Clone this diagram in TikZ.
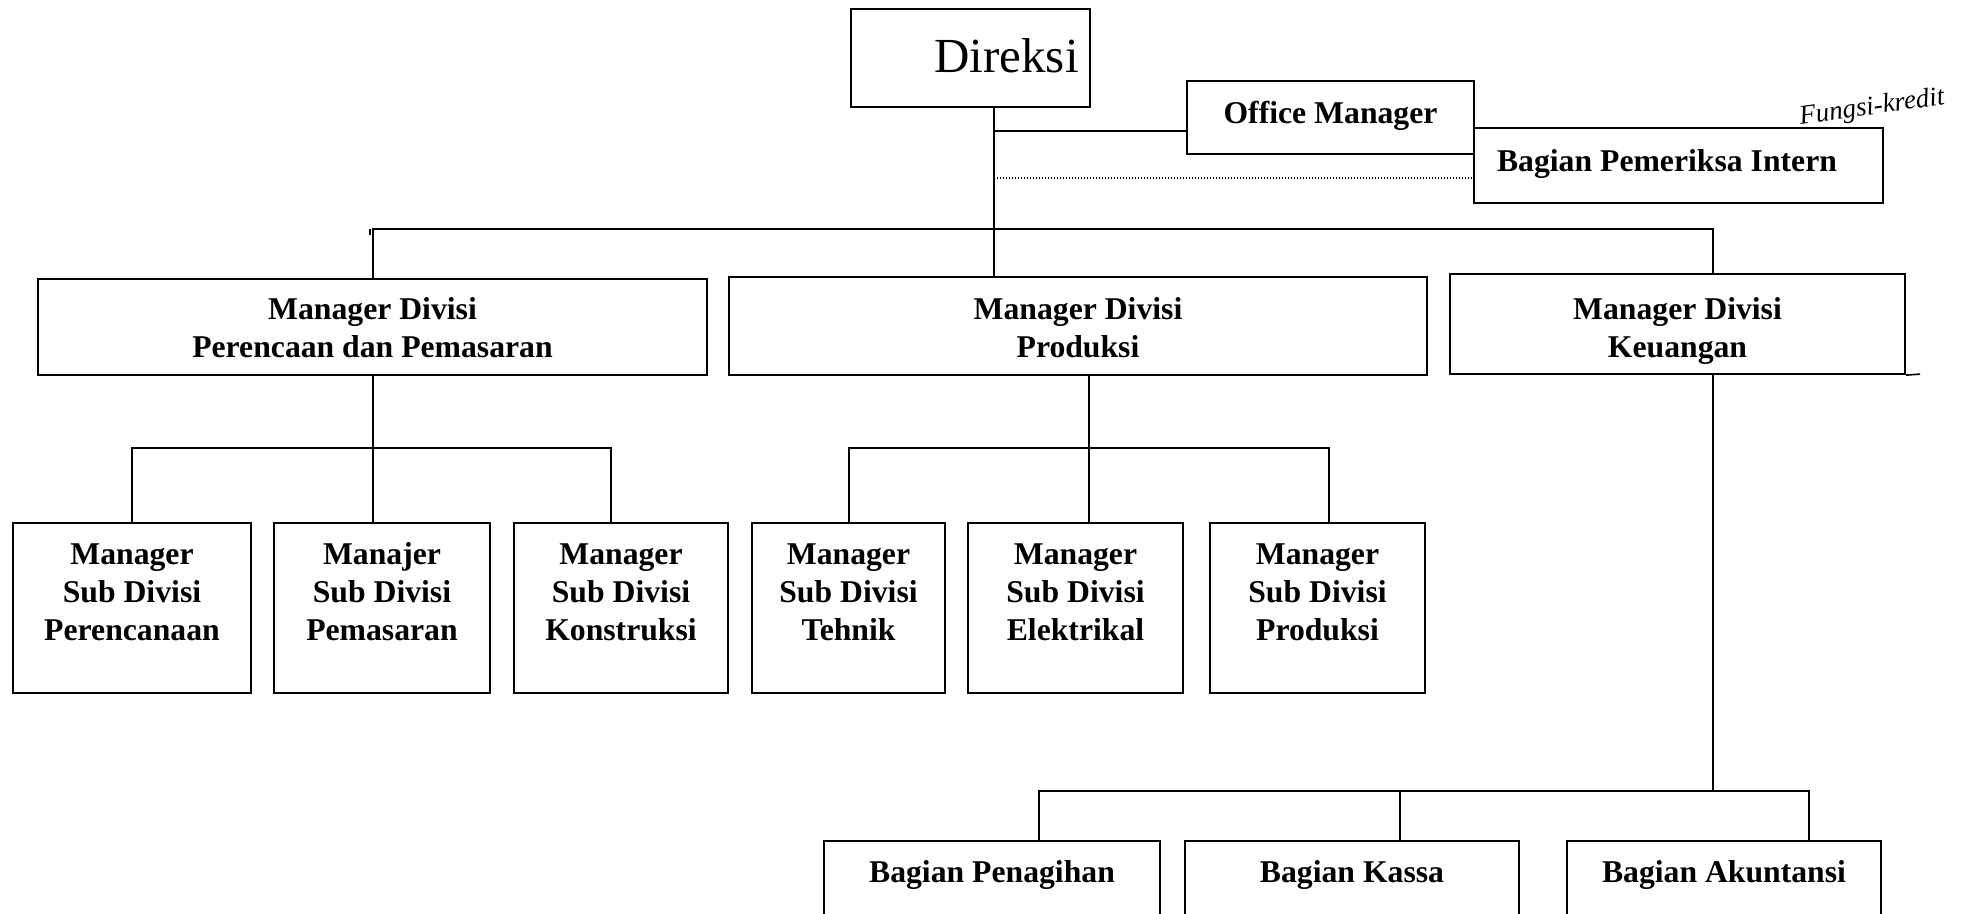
\documentclass[tikz,border=0pt]{standalone}
\usepackage{fontspec}
\setmainfont{Liberation Serif}
\begin{document}
\begin{tikzpicture}[x=1pt,y=-1pt,
  box/.style={draw, line width=2.2pt, inner sep=0pt, rectangle},
  lbl/.style={font=\fontsize{31.7}{38}\selectfont\bfseries, align=center, inner sep=0pt, anchor=north},
  conn/.style={line width=2pt},
  dotconn/.style={line width=1.6pt, dash pattern=on 1.4pt off 1.6pt}]
\useasboundingbox (0,0) rectangle (1972,913);

% top level
\node[box, minimum width=239pt, minimum height=98pt,
  label={[font=\fontsize{49}{58}\selectfont, inner sep=0pt, anchor=north, xshift=36pt, yshift=-30pt]north:Direksi}] (dir) at (970.5,58) {};
\node[box, minimum width=287pt, minimum height=73pt,
  label={[lbl, yshift=-21pt]north:Office Manager}] (om) at (1330.5,117.5) {};
\node[box, minimum width=409pt, minimum height=75pt,
  label={[lbl, xshift=-11.5pt, yshift=-22pt]north:Bagian Pemeriksa Intern}] (bpi) at (1678.5,165.5) {};
\node[font=\fontsize{27}{29}\selectfont\itshape, rotate=8, inner sep=0pt] (note) at (1872,108) {Fungsi-kredit};

% divisions
\node[box, minimum width=669pt, minimum height=96pt,
  label={[lbl, yshift=-19pt]north:Manager Divisi\\Perencaan dan Pemasaran}] (d1) at (372.5,327) {};
\node[box, minimum width=698pt, minimum height=98pt,
  label={[lbl, yshift=-21pt]north:Manager Divisi\\Produksi}] (d2) at (1078,326) {};
\node[box, minimum width=455pt, minimum height=100pt,
  label={[lbl, yshift=-24pt]north:Manager Divisi\\Keuangan}] (d3) at (1677.5,324) {};

% sub divisions
\node[box, minimum width=238pt, minimum height=170pt,
  label={[lbl, yshift=-22pt]north:Manager\\Sub Divisi\\Perencanaan}] (s1) at (132,608) {};
\node[box, minimum width=216pt, minimum height=170pt,
  label={[lbl, yshift=-20pt]north:Manajer\\Sub Divisi\\Pemasaran}] (s2) at (382,608) {};
\node[box, minimum width=214pt, minimum height=170pt,
  label={[lbl, yshift=-22pt]north:Manager\\Sub Divisi\\Konstruksi}] (s3) at (621,608) {};
\node[box, minimum width=193pt, minimum height=170pt,
  label={[lbl, yshift=-22pt]north:Manager\\Sub Divisi\\Tehnik}] (s4) at (848.5,608) {};
\node[box, minimum width=215pt, minimum height=170pt,
  label={[lbl, yshift=-22pt]north:Manager\\Sub Divisi\\Elektrikal}] (s5) at (1075.5,608) {};
\node[box, minimum width=215pt, minimum height=170pt,
  label={[lbl, yshift=-22pt]north:Manager\\Sub Divisi\\Produksi}] (s6) at (1317.5,608) {};

% bagian
\node[box, minimum width=336pt, minimum height=77pt,
  label={[lbl, yshift=-20pt]north:Bagian Penagihan}] (b1) at (992,879.5) {};
\node[box, minimum width=334pt, minimum height=77pt,
  label={[lbl, yshift=-20pt]north:Bagian Kassa}] (b2) at (1352,879.5) {};
\node[box, minimum width=314pt, minimum height=77pt,
  label={[lbl, yshift=-20pt]north:Bagian Akuntansi}] (b3) at (1724,879.5) {};

% helper coordinates
\coordinate (vx) at (994,0);
\coordinate (omy) at (0,131);
\coordinate (doty) at (0,178);
\coordinate (bus) at (0,229);
\coordinate (kx) at (1713,0);
\coordinate (pb) at (0,448);
\coordinate (s3x) at (611,0);
\coordinate (qx) at (1089,0);
\coordinate (s6x) at (1329,0);
\coordinate (kb) at (0,791);
\coordinate (k1x) at (1039,0);
\coordinate (k2x) at (1400,0);
\coordinate (k3x) at (1809,0);

% top connectors
\draw[conn] (dir.south -| vx) -- (d2.north -| vx);
\draw[conn] (vx |- omy) -- (om.west |- omy);
\draw[dotconn] ([xshift=3pt]vx |- doty) -- (bpi.west |- doty);
\draw[conn] (d1.north) -- (d1.north |- bus) -- (kx |- bus) -- (kx |- d3.north);
\draw[conn] ([xshift=-3pt]d1.north |- bus) -- ++(0,6);

% planning division
\draw[conn] (d1.south) -- (d1.south |- s2.north);
\draw[conn] (s1.north) -- (s1.north |- pb) -- (s3x |- pb) -- (s3x |- s3.north);

% production division
\draw[conn] (qx |- d2.south) -- (qx |- s5.north);
\draw[conn] (s4.north) -- (s4.north |- pb) -- (s6x |- pb) -- (s6x |- s6.north);

% finance division
\draw[conn] (kx |- d3.south) -- (kx |- kb);
\draw[conn] (k1x |- b1.north) -- (k1x |- kb) -- (k3x |- kb) -- (k3x |- b3.north);
\draw[conn] (k2x |- kb) -- (k2x |- b2.north);
\draw[line width=1.6pt] (d3.south east) -- ++(14,-1);
\end{tikzpicture}
\end{document}
